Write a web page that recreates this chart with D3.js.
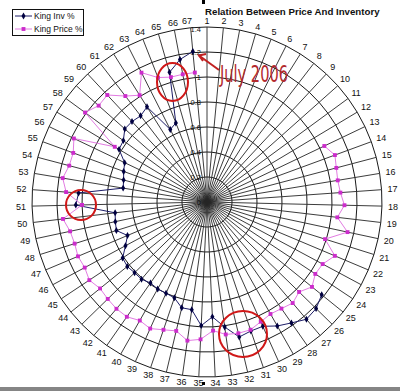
<!DOCTYPE html>
<html><head><meta charset="utf-8">
<script src="https://cdn.jsdelivr.net/npm/d3@7"></script>
<style>body{margin:0;background:#fff}svg{display:block}</style>
</head><body>
<svg id="c" width="400" height="391"></svg>
<script>
const categories = [1,2,3,4,5,6,7,8,9,10,11,12,13,14,15,16,17,18,19,20,21,22,23,24,25,26,27,28,29,30,31,32,33,34,35,36,37,38,39,40,41,42,43,44,45,46,47,48,49,50,51,52,53,54,55,56,57,58,59,60,61,62,63,64,65,66,67];
const seriesNames = ["King Inv %", "King Price %"];
const invPct = [null,null,null,null,null,null,null,null,null,null,null,null,null,null,null,null,null,null,null,null,null,null,null,null,
  1.18,1.22,1.23,1.18,1.14,1.09,1.09,1.11,1.01,0.92,
  0.99,0.87,0.87,0.81,0.80,0.80,0.79,0.81,0.81,0.82,
  0.81,0.74,0.69,0.76,0.75,0.74,1.05,1.03,0.68,0.69,
  0.71,0.73,0.82,0.83,0.88,0.88,0.87,0.90,0.65,0.68,
  1.08,1.16,1.21];
const pricePct = [null,null,null,null,null,null,null,null,null,null,null,null,
  1.04,1.09,1.07,1.06,1.07,1.10,1.05,1.15,0.99,1.11,
  1.05,1.04,1.08,1.03,1.06,1.04,1.03,1.05,1.08,1.08,
  1.07,1.03,1.10,1.12,1.06,1.08,1.11,1.09,1.12,1.12,
  1.11,1.10,1.13,1.11,1.12,1.11,1.12,1.16,1.00,1.13,
  1.17,1.14,1.14,1.18,0.86,1.21,1.16,1.17,1.07,1.01,
  1.16,1.07,1.04,1.04,1.04];
const tickValues = [0,0.2,0.4,0.6,0.8,1,1.2,1.4];
const tickLabels = ["0","0.2","0.4","0.6","0.8","1","1.2","1.4"];
const titleText = "Relation Between Price And Inventory";
const noteText = "July 2006";

const W = 400, H = 391, cx = 207, cy = 202, R = 175;
const FONT = "'Liberation Sans', Arial, sans-serif";
const svg = d3.select("#c");
svg.append("rect").attr("width", W).attr("height", H).attr("fill", "#fff");

const r = d3.scaleLinear().domain([0, 1.4]).range([0, R]);
const ang = d3.scaleLinear().domain([0, categories.length]).range([0, 2 * Math.PI]);
const g = svg.append("g").attr("transform", `translate(${cx},${cy})`);

// rings
const ringLine = d3.lineRadial().angle((d, i) => ang(i)).radius(d => r(d)).curve(d3.curveLinearClosed);
tickValues.slice(1).forEach(v => {
  g.append("path").attr("d", ringLine(categories.map(() => v)))
    .attr("fill", "none").attr("stroke", "#1a1a1a").attr("stroke-width", 1);
});
// spokes
g.selectAll("line.spoke").data(categories).join("line").attr("class", "spoke")
  .attr("x1", 0).attr("y1", 0)
  .attr("x2", (d, i) => r(1.4) * Math.sin(ang(i)))
  .attr("y2", (d, i) => -r(1.4) * Math.cos(ang(i)))
  .attr("stroke", "#262626").attr("stroke-width", 0.9);

// category labels
const labR = a => R + 6 + 5 * Math.abs(Math.sin(a));
g.selectAll("text.cat").data(categories).join("text").attr("class", "cat")
  .attr("x", (d, i) => labR(ang(i)) * Math.sin(ang(i)) - (d === 67 ? 3 : 0))
  .attr("y", (d, i) => -labR(ang(i)) * Math.cos(ang(i)))
  .attr("dy", "0.35em").attr("text-anchor", "middle")
  .attr("font-family", FONT).attr("font-size", 9).attr("fill", "#111")
  .text(d => d);

// value axis
const yAxisScale = d3.scaleLinear().domain([0, 1.4]).range([0, -R]);
const ax = g.append("g").call(d3.axisLeft(yAxisScale).tickValues(tickValues)
  .tickFormat((d, i) => tickLabels[i]).tickSize(0).tickPadding(6));
ax.select(".domain").remove();
ax.selectAll("text").attr("font-family", FONT).attr("font-size", 7.5).attr("fill", "#111")
  .attr("dy", (d, i) => i === tickValues.length - 1 ? "0.6em" : "0.32em");

// series
const pos = (v, i) => [r(v) * Math.sin(ang(i)), -r(v) * Math.cos(ang(i))];
const sLine = d3.lineRadial().defined(d => d != null).angle((d, i) => ang(i)).radius(d => r(d));
function drawSeries(vals, lineColor, markColor, symType, symSize) {
  g.append("path").attr("d", sLine(vals)).attr("fill", "none")
    .attr("stroke", lineColor).attr("stroke-width", 1);
  const pts = vals.map((v, i) => ({v, i})).filter(d => d.v != null);
  g.selectAll(null).data(pts).join("path")
    .attr("d", d3.symbol().type(symType).size(symSize))
    .attr("transform", d => { const p = pos(d.v, d.i); return `translate(${p[0]},${p[1]})`; })
    .attr("fill", markColor);
}
drawSeries(invPct, "#1c1c66", "#000040", d3.symbolDiamond, 14);
drawSeries(pricePct, "#e27ce2", "#cc2ccc", d3.symbolSquare, 15);

// legend
const lg = svg.append("g");
lg.append("rect").attr("x", 12.5).attr("y", 9.5).attr("width", 71).attr("height", 26)
  .attr("fill", "#fff").attr("stroke", "#111").attr("stroke-width", 1);
const legItems = [
  {name: seriesNames[0], y: 16, lc: "#1c1c66", mc: "#000040", sym: d3.symbolDiamond, s: 14},
  {name: seriesNames[1], y: 29, lc: "#e27ce2", mc: "#cc2ccc", sym: d3.symbolSquare, s: 15}
];
legItems.forEach(it => {
  lg.append("line").attr("x1", 15).attr("x2", 32).attr("y1", it.y).attr("y2", it.y)
    .attr("stroke", it.lc).attr("stroke-width", 1);
  lg.append("path").attr("d", d3.symbol().type(it.sym).size(it.s)())
    .attr("transform", `translate(23.5,${it.y})`).attr("fill", it.mc);
  lg.append("text").attr("x", 34).attr("y", it.y + 3).attr("font-family", FONT)
    .attr("font-size", 8.5).attr("fill", "#111").text(it.name);
});

// title
svg.append("text").attr("x", 205).attr("y", 15).attr("font-family", FONT)
  .attr("font-size", 9.7).attr("font-weight", "bold").attr("fill", "#111").text(titleText);

// annotations
const red = "#d01818";
[[172.5, 82, 15.5, 19], [81, 205, 15, 15], [243, 334, 24, 23]].forEach(e => {
  svg.append("ellipse").attr("cx", e[0]).attr("cy", e[1]).attr("rx", e[2]).attr("ry", e[3])
    .attr("fill", "none").attr("stroke", red).attr("stroke-width", 2);
});
svg.append("line").attr("x1", 219).attr("y1", 70).attr("x2", 199).attr("y2", 55.5)
  .attr("stroke", "#c02020").attr("stroke-width", 2);
svg.append("path").attr("d", "M206,54 L199,55.5 L203,61").attr("fill", "none")
  .attr("stroke", "#c02020").attr("stroke-width", 2);
svg.append("text").attr("x", 220).attr("y", 82).attr("font-family", "'DejaVu Sans Condensed', 'Liberation Sans Narrow', sans-serif")
  .attr("font-size", 23).attr("fill", "#b32a2e").attr("textLength", 68)
  .attr("lengthAdjust", "spacingAndGlyphs").text(noteText);

// handles & bottom bar
svg.append("rect").attr("x", 202).attr("y", 0).attr("width", 3).attr("height", 4).attr("fill", "#000");
svg.append("rect").attr("x", 202).attr("y", 382).attr("width", 3).attr("height", 3).attr("fill", "#000");
svg.append("rect").attr("x", 0).attr("y", 387).attr("width", W).attr("height", 4).attr("fill", "#858585");
</script>
</body></html>
